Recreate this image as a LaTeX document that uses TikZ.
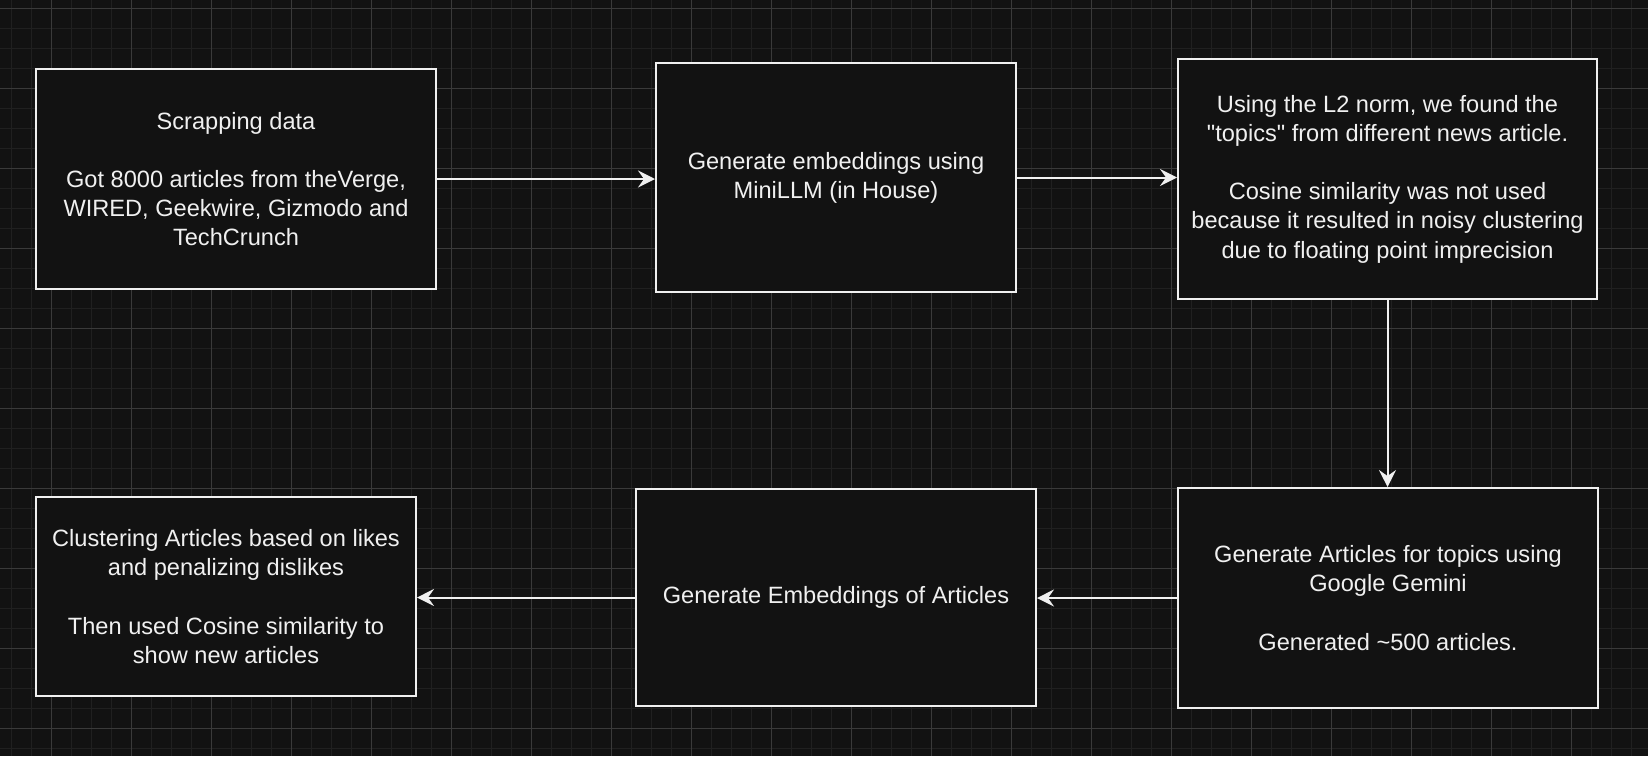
\documentclass[tikz,border=0pt]{standalone}
\usepackage{fontspec}
\setmainfont{Liberation Sans}
\usetikzlibrary{arrows.meta}
\definecolor{bg}{HTML}{121212}
\definecolor{gridminor}{HTML}{202020}
\definecolor{gridmajor}{HTML}{3A3A3A}
\definecolor{ink}{HTML}{F0F0F0}
\begin{document}
\begin{tikzpicture}[x=1pt,y=-1pt,
  minorline/.style={draw=gridminor,line width=1pt},
  majorline/.style={draw=gridmajor,line width=1pt},
  stepbox/.style={draw=ink,fill=bg,line width=2pt,rectangle,inner sep=0pt,
    align=center,text=ink,font=\fontsize{23.6}{29.2}\selectfont},
  flow/.style={draw=ink,line width=2pt,-{Stealth[length=17pt,width=17pt,inset=6pt]}}]
\fill[bg] (0,0) rectangle (1648,756);
\useasboundingbox (0,0) rectangle (1648,756);
\foreach \i in {0,...,81} { \draw[minorline] ({11.7+20*\i},0) -- ++(0,756); }
\foreach \i in {0,...,37} { \draw[minorline] (0,{8.3+20*\i}) -- ++(1648,0); }
\foreach \i in {0,...,19} { \draw[majorline] ({51.7+80*\i},0) -- ++(0,756); }
\foreach \i in {0,...,9} { \draw[majorline] (0,{8.3+80*\i}) -- ++(1648,0); }

\node[stepbox,minimum width=400pt,minimum height=220pt] (b1) at (236,179)
  {Scrapping data\\[29.2pt]Got 8000 articles from theVerge,\\WIRED, Geekwire, Gizmodo and\\TechCrunch};
\node[stepbox,minimum width=360pt,minimum height=229pt] (b2) at (836,177.5)
  {Generate embeddings using\\MiniLLM (in House)};
\node[stepbox,minimum width=419pt,minimum height=240pt] (b3) at (1387.5,179)
  {Using the L2 norm, we found the\\\textquotedbl topics\textquotedbl{} from different news article.\\[29.2pt]Cosine similarity was not used\\because it resulted in noisy clustering\\due to floating point imprecision};
\node[stepbox,minimum width=420pt,minimum height=220pt] (b4) at (1388,598)
  {Generate Articles for topics using\\Google Gemini\\[29.2pt]Generated \textasciitilde500 articles.};
\node[stepbox,minimum width=400pt,minimum height=217pt] (b5) at (836,597.5)
  {Generate Embeddings of Articles};
\node[stepbox,minimum width=380pt,minimum height=199pt] (b6) at (226,596.5)
  {Clustering Articles based on likes\\and penalizing dislikes\\[29.2pt]Then used Cosine similarity to\\show new articles};

\draw[flow] (b1.east) -- (b1.east -| b2.west);
\draw[flow] (b2.east) -- (b2.east -| b3.west);
\draw[flow] (b3.south) -- (b3.south |- b4.north);
\draw[flow] (b4.west) -- (b4.west -| b5.east);
\draw[flow] (b5.west) -- (b5.west -| b6.east);
\end{tikzpicture}
\end{document}
